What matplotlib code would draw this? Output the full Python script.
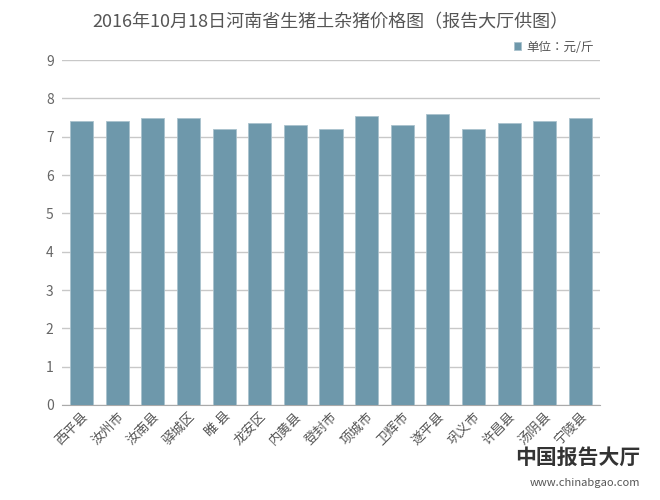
import numpy as np
import matplotlib
matplotlib.use("Agg")
import matplotlib.pyplot as plt
from matplotlib import font_manager

# find an installed CJK font
cjk = [f for f in font_manager.fontManager.ttflist if "CJK" in f.name]
names = sorted(set(f.name for f in cjk))
fam = "Noto Sans CJK SC" if "Noto Sans CJK SC" in names else (names[0] if names else "DejaVu Sans")
plt.rcParams["font.family"] = [fam, "DejaVu Sans"]

counties = ["西平县", "汝州市", "汝南县", "驿城区", "睢 县", "龙安区", "内黄县", "登封市",
            "项城市", "卫辉市", "遂平县", "巩义市", "许昌县", "汤阴县", "宁陵县"]
prices = [7.4, 7.4, 7.5, 7.5, 7.2, 7.35, 7.3, 7.2, 7.55, 7.3, 7.6, 7.2, 7.35, 7.4, 7.5]
yticks = list(range(0, 10))

fig = plt.figure(figsize=(6.6, 5.0), dpi=100)
ax = fig.add_axes([62/660, 95/500, 538/660, 345/500])
x = np.arange(len(counties))
ax.bar(x, prices, width=0.65, color="#6e98ab", edgecolor="#a9c2cd", linewidth=0.6, zorder=3, label="单位：元/斤")
ax.set_xlim(-0.55, len(counties) - 0.45)
ax.set_ylim(0, 9)
ax.set_yticks(yticks)
ax.grid(axis="y", color="#c8c8c8", linewidth=1, zorder=0)
for s in ["top", "right", "left"]:
    ax.spines[s].set_visible(False)
ax.spines["bottom"].set_color("#aaaaaa")
ax.tick_params(axis="y", length=0, labelsize=10, colors="#666666", pad=6)
ax.tick_params(axis="x", length=0, colors="#555555", labelsize=9.5)
ax.set_xticks(x)
ax.set_xticklabels(counties, rotation=45, ha="right", rotation_mode="anchor")
fig.text(0.5, 0.955, "2016年10月18日河南省生猪土杂猪价格图（报告大厅供图）", ha="center",
         va="center", fontsize=13, color="#555555")
ax.legend(loc="lower right", bbox_to_anchor=(1.0, 1.0), frameon=False, fontsize=9,
          handlelength=0.6, handleheight=0.6, handletextpad=0.4, borderaxespad=0.1,
          labelcolor="#555555")
fig.text(0.97, 0.085, "中国报告大厅", ha="right", va="center", fontsize=15,
         color="#333333", fontweight="bold")
fig.text(0.97, 0.035, "www.chinabgao.com", ha="right", va="center", fontsize=8, color="#555555")
fig.savefig("out.png", dpi=100)
